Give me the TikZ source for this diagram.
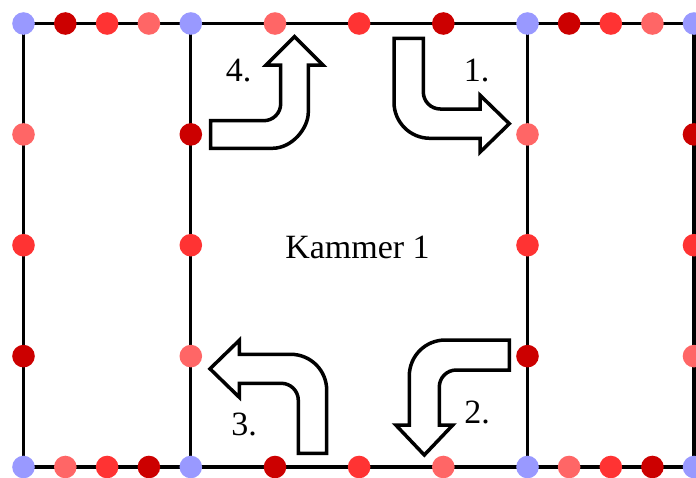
\documentclass[tikz,border=0pt]{standalone}
\usepackage{fontspec}
\setmainfont{Liberation Serif}
\usetikzlibrary{backgrounds}
\definecolor{dotB}{RGB}{153,153,255}
\definecolor{dotD}{RGB}{204,0,0}
\definecolor{dotR}{RGB}{255,51,51}
\definecolor{dotS}{RGB}{255,102,102}
\tikzset{
  dot/.style={circle,draw=none,inner sep=0pt,minimum size=22.6pt},
  gridline/.style={line width=3.2pt,black},
  bentarrow/.style={draw=black,fill=white,line width=3.5pt,miter limit=10},
  lab/.style={inner sep=0pt,anchor=base,font=\fontsize{34}{40}\selectfont}
}
\begin{document}
\begin{tikzpicture}[x=1pt,y=-1pt]
\useasboundingbox (0,0) rectangle (696,477);
% top row dots
\foreach \x/\c [count=\i] in {23.5/dotB,65.3/dotD,107.1/dotR,148.9/dotS,190.8/dotB,275/dotS,359.1/dotR,443.3/dotD,527.5/dotB,569.1/dotD,610.8/dotR,652.4/dotS,694/dotB}
  \node[dot,fill=\c] (t\i) at (\x,23.5) {};
% bottom row dots
\foreach \x/\c [count=\i] in {23.5/dotB,65.3/dotS,107.1/dotR,148.9/dotD,190.8/dotB,275/dotD,359.1/dotR,443.3/dotS,527.5/dotB,569.1/dotS,610.8/dotR,652.4/dotD,694/dotB}
  \node[dot,fill=\c] (b\i) at (\x,467) {};
% vertical dots
\foreach \y/\c [count=\i] in {134.4/dotS,245.2/dotR,356.1/dotD}
  \node[dot,fill=\c] (va\i) at (23.5,\y) {};
\foreach \y/\c [count=\i] in {134.4/dotD,245.2/dotR,356.1/dotS}
  \node[dot,fill=\c] (vb\i) at (190.8,\y) {};
\foreach \y/\c [count=\i] in {134.4/dotS,245.2/dotR,356.1/dotD}
  \node[dot,fill=\c] (vc\i) at (527.5,\y) {};
\foreach \y/\c [count=\i] in {134.4/dotD,245.2/dotR,356.1/dotS}
  \node[dot,fill=\c] (vd\i) at (694,\y) {};
\begin{scope}[on background layer]
  \draw[gridline] (t1.center) -- (t13.center);
  \draw[gridline] (b1.center) -- (b13.center);
  \draw[gridline] (t1.center) -- (b1.center);
  \draw[gridline] (t5.center) -- (b5.center);
  \draw[gridline] (t9.center) -- (b9.center);
  \draw[gridline] (t13.center) -- (b13.center);
\end{scope}
% arrow 1
\draw[bentarrow] (394,38.3) -- (423.3,38.3) -- (423.3,92)
  .. controls (423.3,101.4) and (430.9,109) .. (440.3,109)
  -- (480,109) -- (480,95.2) -- (509.3,123.7) -- (480,152.2) -- (480,138.3) -- (430,138.3)
  .. controls (410.1,138.3) and (394,122.2) .. (394,102.3) -- cycle;
% arrow 2
\draw[bentarrow] (509.3,340) -- (445.3,340)
  .. controls (425.4,340) and (409.3,355.9) .. (409.3,376)
  -- (409.3,425) -- (395.8,425) -- (424.3,455) -- (452.8,425) -- (439.3,425) -- (439.3,387)
  .. controls (439.3,377.6) and (446.9,370) .. (456.3,370) -- (509.3,370) -- cycle;
% arrow 3
\draw[bentarrow] (298.3,453.3) -- (298.3,400.3)
  .. controls (298.3,390.9) and (290.7,383.3) .. (281.3,383.3)
  -- (239.3,383.3) -- (239.3,397.3) -- (210,368.8) -- (239.3,340.3) -- (239.3,354.3) -- (290.7,354.3)
  .. controls (310.6,354.3) and (326.7,370.2) .. (326.7,390.3) -- (326.7,453.3) -- cycle;
% arrow 4
\draw[bentarrow] (210.7,120.7) -- (263.7,120.7)
  .. controls (273.1,120.7) and (280.7,113.1) .. (280.7,103.7)
  -- (280.7,65) -- (266,65) -- (294.5,36.7) -- (323,65) -- (308.3,65) -- (308.3,112.3)
  .. controls (308.3,128.2) and (292.2,148.3) .. (272.3,148.3) -- (210.7,148.3) -- cycle;
% labels
\node[lab] (kammer) at (357.5,258.3) {Kammer 1};
\node[lab] (l1) at (476.5,81.7) {1.};
\node[lab] (l2) at (477,423.3) {2.};
\node[lab] (l3) at (244,435.5) {3.};
\node[lab] (l4) at (238.5,81.7) {4.};
\end{tikzpicture}
\end{document}
